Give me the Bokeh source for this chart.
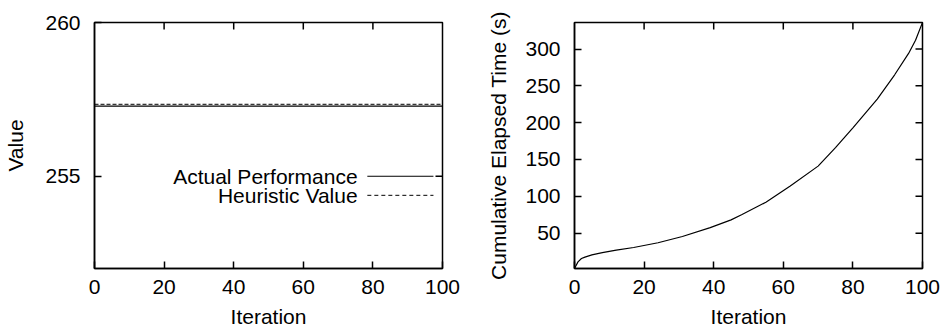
from bokeh.plotting import figure
from bokeh.layouts import row
from bokeh.models import FixedTicker, Range1d, Label
from bokeh.embed import file_html
from bokeh.resources import INLINE

# ---- data ----
iter_flat = [0, 100]
actual_perf = [257.28, 257.28]
heuristic_val = [257.34, 257.34]

iters = [0, 1, 2, 3, 5, 8, 12, 17, 24, 31, 39, 45, 48, 55, 62, 70, 75, 80, 87, 92, 96, 98, 100]
cum_time = [2, 11, 15.5, 17.5, 20.5, 23.5, 27, 30.5, 37, 45.5, 57.5, 68, 75, 92, 114, 141,
            166, 193, 232, 265, 294, 312, 336]

x_ticks = [0, 20, 40, 60, 80, 100]
left_y_ticks = [250, 255, 260]
right_y_ticks = [50, 100, 150, 200, 250, 300]

FONT = "Liberation Sans"
FS = "21px"
FRAME_W, FRAME_H, TICK_PX = 348, 246, 7


def style(p, xt, yt, xr, yr):
    p.outline_line_color = "black"
    p.outline_line_width = 1.5
    p.grid.visible = False
    for ax in p.xaxis + p.yaxis:
        ax.major_tick_in = TICK_PX
        ax.major_tick_out = 0
        ax.minor_tick_line_color = None
        ax.axis_line_width = 1.5
        ax.axis_line_color = "black"
        ax.major_tick_line_width = 1.5
        ax.major_label_text_font = FONT
        ax.major_label_text_font_size = FS
        ax.major_label_text_color = "black"
        ax.axis_label_text_font = FONT
        ax.axis_label_text_font_size = FS
        ax.axis_label_text_font_style = "normal"
        ax.axis_label_text_color = "black"
    p.xaxis.ticker = FixedTicker(ticks=xt)
    p.yaxis.ticker = FixedTicker(ticks=yt)
    p.xaxis.major_label_standoff = 11
    p.yaxis.major_label_standoff = 14
    # mirrored inward ticks on top and right edges
    dy = TICK_PX * (yr[1] - yr[0]) / FRAME_H
    dx = TICK_PX * (xr[1] - xr[0]) / FRAME_W
    tx = [t for t in xt if xr[0] < t < xr[1]]
    ty = [t for t in yt if yr[0] < t < yr[1]]
    p.segment(x0=tx, y0=[yr[1]] * len(tx), x1=tx, y1=[yr[1] - dy] * len(tx),
              line_color="black", line_width=1.5)
    p.segment(x0=[xr[1]] * len(ty), y0=ty, x1=[xr[1] - dx] * len(ty), y1=ty,
              line_color="black", line_width=1.5)


# ---- left panel ----
xr1, yr1 = (0, 100), (252, 260)
p1 = figure(width=470, height=331, output_backend="svg", toolbar_location=None,
            x_range=Range1d(*xr1), y_range=Range1d(*yr1),
            min_border_left=94, min_border_right=28, min_border_top=22, min_border_bottom=63)
p1.line(iter_flat, actual_perf, line_color="black", line_width=1.2)
p1.line(iter_flat, heuristic_val, line_color="black", line_width=1, line_dash="4 2")
p1.xaxis.axis_label = "Iteration"
p1.yaxis.axis_label = "Value"
style(p1, x_ticks, left_y_ticks, xr1, yr1)
p1.xaxis[0].axis_label_standoff = 8
p1.yaxis[0].axis_label_standoff = 15

# gnuplot-style key (text, then sample line to its right)
key_labels = ["Actual Performance", "Heuristic Value"]
key_y = [255.0, 254.38]
key_dash = ["solid", "4 3"]
for lab, ky, dsh in zip(key_labels, key_y, key_dash):
    p1.add_layout(Label(x=75.6, y=ky, text=lab, text_align="right", text_baseline="middle",
                        text_font=FONT, text_font_size=FS, text_color="black"))
    p1.segment(x0=[78.4], y0=[ky], x1=[97.4], y1=[ky], line_color="black", line_width=1,
               line_dash=dsh)

# ---- right panel ----
xr2, yr2 = (0, 100), (min(cum_time), max(cum_time))
p2 = figure(width=470, height=331, output_backend="svg", toolbar_location=None,
            x_range=Range1d(*xr2), y_range=Range1d(*yr2),
            min_border_left=104, min_border_right=18, min_border_top=22, min_border_bottom=63)
p2.line(iters, cum_time, line_color="black", line_width=1.2)
p2.xaxis.axis_label = "Iteration"
p2.yaxis.axis_label = "Cumulative Elapsed Time (s)"
style(p2, x_ticks, right_y_ticks, xr2, yr2)
p2.xaxis[0].axis_label_standoff = 8
p2.yaxis[0].axis_label_standoff = 12

layout = row(p1, p2)
open("out.html", "w").write(file_html(layout, INLINE))
